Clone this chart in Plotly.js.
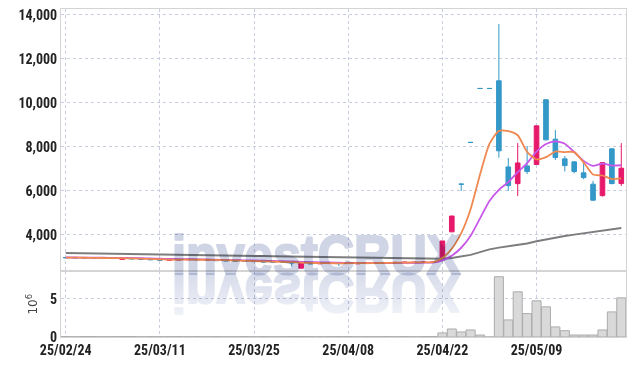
<!DOCTYPE html>
<html><head><meta charset="utf-8">
<script src="https://cdn.plot.ly/plotly-3.0.1.min.js"></script>
<style>html,body{margin:0;padding:0;background:#fff}#chart{width:635px;height:366px}</style>
</head><body><div id="chart"></div>
<script>
const dates = ['25/02/24','25/02/25','25/02/26','25/02/27','25/02/28','25/03/04','25/03/05','25/03/06','25/03/07','25/03/10',
'25/03/11','25/03/12','25/03/13','25/03/14','25/03/17','25/03/18','25/03/19','25/03/20','25/03/21','25/03/24',
'25/03/25','25/03/26','25/03/27','25/03/28','25/03/31','25/04/01','25/04/02','25/04/03','25/04/04','25/04/07',
'25/04/08','25/04/09','25/04/10','25/04/11','25/04/14','25/04/15','25/04/16','25/04/17','25/04/18','25/04/21',
'25/04/22','25/04/23','25/04/24','25/04/25','25/04/28','25/04/29','25/04/30','25/05/02','25/05/07','25/05/08',
'25/05/09','25/05/12','25/05/13','25/05/14','25/05/15','25/05/16','25/05/19','25/05/20','25/05/21','25/05/22'];
const tickLabels = ['25/02/24','25/03/11','25/03/25','25/04/08','25/04/22','25/05/09'];

const open = [2975,2965,2960,2955,2945,2950,2890,2945,2920,2895,
2880,2850,2860,2870,2895,2870,2850,2835,2825,2815,
2800,2790,2770,2765,2760,2490,2700,2690,2700,2740,
2700,2690,2700,2715,2725,2735,2745,2750,2760,2760,
2864,4140,6310,8205,10655,10655,11000,7090,6330,7136,
7200,10140,8350,7455,7320,6820,6305,5786,7909,6333];
const high = [2985,2970,2965,2960,2955,2955,2945,2950,2925,2900,
2885,2880,2885,2900,2900,2875,2855,2840,2830,2820,
2805,2795,2775,2770,2765,2715,2705,2730,2745,2745,
2735,2720,2730,2735,2745,2755,2765,2770,2775,2780,
3727,4864,6310,8205,10655,10655,13580,7490,8170,8045,
8960,10150,8770,7590,7330,7330,6455,7300,7950,8168];
const low = [2955,2950,2945,2935,2935,2925,2885,2910,2880,2865,
2845,2845,2855,2865,2860,2840,2825,2815,2805,2790,
2780,2760,2755,2745,2560,2480,2680,2680,2690,2590,
2680,2680,2695,2705,2715,2725,2735,2745,2750,2755,
2850,4136,6000,8200,10650,10650,7510,6000,5770,6760,
7190,8300,7410,6880,6800,6530,5560,5740,6300,6227];
const close = [2965,2960,2955,2945,2940,2930,2940,2915,2895,2875,
2855,2875,2880,2895,2870,2850,2835,2825,2815,2800,
2790,2770,2765,2760,2730,2710,2690,2725,2740,2700,
2730,2715,2725,2735,2745,2755,2765,2760,2770,2765,
3727,4860,6305,8200,10650,10650,7820,6240,7270,6880,
8955,8318,7514,7150,6880,6605,5577,7286,6333,7030];
const priorCloses = [3000,2995,2990,2985,2980,2978,2975,2972,2970];
const ma60 = [3180,3175,3170,3165,3160,3155,3150,3145,3140,3132,
3123,3117,3110,3104,3098,3092,3085,3078,3070,3060,
3050,3043,3036,3030,3022,3012,3005,2998,2992,2985,
2978,2970,2963,2957,2950,2945,2940,2935,2930,2927,
2925,2955,3010,3095,3220,3345,3425,3480,3550,3615,
3715,3805,3880,3950,4015,4075,4120,4192,4249,4319];
const volume = [0.05,0.04,0.05,0.06,0.04,0.05,0.06,0.05,0.04,0.05,
0.04,0.05,0.05,0.04,0.05,0.04,0.05,0.04,0.04,0.05,
0.04,0.05,0.04,0.05,0.06,0.07,0.05,0.04,0.05,0.06,
0.05,0.04,0.05,0.04,0.05,0.04,0.05,0.04,0.05,0.06,
0.53,1.05,0.66,0.92,0.26,0.0,7.9,2.24,5.92,3.07,
4.74,3.95,1.32,0.83,0.26,0.26,0.26,0.92,3.29,5.13];

function movingAvg(n){
  const all = priorCloses.concat(close);
  const off = priorCloses.length;
  return close.map((_, i) => {
    let s = 0;
    for (let k = i + off - n + 1; k <= i + off; k++) s += all[k];
    return s / n;
  });
}
const ma5 = movingAvg(5);
const ma10 = movingAvg(10);

const UP = '#e6196a', DOWN = '#3498c8';
const tickFont = {family: '"Roboto Condensed", Roboto, "Liberation Sans", sans-serif', size: 14, color: '#222', weight: 'bold'};
const gridColor = '#c9cde0';
const frameColor = '#d4d4d4';
const WM = '#d0d5e6';

const traces = [
  {type: 'candlestick', x: dates, open: open, high: high, low: low, close: close,
   xaxis: 'x', yaxis: 'y', whiskerwidth: 0,
   increasing: {line: {color: UP, width: 1}, fillcolor: UP},
   decreasing: {line: {color: DOWN, width: 1}, fillcolor: DOWN},
   hoverinfo: 'skip', showlegend: false},
  {type: 'scatter', mode: 'lines', x: dates, y: ma60, xaxis: 'x', yaxis: 'y',
   line: {color: '#7d7d7d', width: 2}, showlegend: false, hoverinfo: 'skip'},
  {type: 'scatter', mode: 'lines', x: dates, y: ma10, xaxis: 'x', yaxis: 'y',
   line: {color: '#c857ea', width: 1.8, shape: 'spline', smoothing: 0.6}, showlegend: false, hoverinfo: 'skip'},
  {type: 'scatter', mode: 'lines', x: dates, y: ma5, xaxis: 'x', yaxis: 'y',
   line: {color: '#f08850', width: 1.8, shape: 'spline', smoothing: 0.6}, showlegend: false, hoverinfo: 'skip'},
  {type: 'bar', x: dates, y: volume, xaxis: 'x2', yaxis: 'y2',
   marker: {color: '#d9d9d9', line: {color: '#ababab', width: 1}},
   showlegend: false, hoverinfo: 'skip'}
];

const layout = {
  width: 635, height: 366,
  margin: {l: 61, r: 9, t: 9, b: 29},
  paper_bgcolor: '#fff', plot_bgcolor: '#fff',
  showlegend: false,
  bargap: 0.04,
  xaxis: {domain: [0, 1], anchor: 'y', type: 'category', range: [-0.5, 59.5],
    rangeslider: {visible: false}, showticklabels: false, tickvals: tickLabels, ticks: '',
    showgrid: true, gridcolor: gridColor, griddash: 'dot', gridwidth: 1,
    showline: true, mirror: true, linecolor: frameColor, linewidth: 1, zeroline: false},
  xaxis2: {domain: [0, 1], anchor: 'y2', type: 'category', matches: 'x', range: [-0.5, 59.5],
    tickvals: tickLabels, ticktext: tickLabels, ticks: '', tickfont: tickFont,
    showgrid: true, gridcolor: gridColor, griddash: 'dot', gridwidth: 1,
    showline: true, mirror: true, linecolor: frameColor, linewidth: 1, zeroline: false},
  yaxis: {domain: [0.2, 1], anchor: 'x', range: [2345, 14260],
    tickvals: [4000, 6000, 8000, 10000, 12000, 14000], tickformat: ',d', ticks: '',
    tickfont: tickFont, showgrid: true, gridcolor: gridColor, griddash: 'dot', gridwidth: 1,
    showline: true, mirror: true, linecolor: frameColor, linewidth: 1, zeroline: false},
  yaxis2: {domain: [0, 0.2], anchor: 'x2', range: [0, 8.6],
    tickvals: [0, 5], ticks: '', tickfont: tickFont,
    title: {text: '10<sup>6</sup>', font: {family: '"DejaVu Sans", sans-serif', size: 12, color: '#444'}, standoff: 9},
    showgrid: true, gridcolor: gridColor, griddash: 'dot', gridwidth: 1,
    showline: true, mirror: true, linecolor: frameColor, linewidth: 1, zeroline: false},
  annotations: [
    {text: 'investCRUX', xref: 'paper', yref: 'paper', x: 0.452, y: 0.148, xanchor: 'center', yanchor: 'bottom',
     showarrow: false, font: {family: '"Liberation Sans", Arial, sans-serif', size: 56, color: WM, weight: 'bold'}}
  ]
};

Plotly.newPlot('chart', traces, layout, {staticPlot: true, displayModeBar: false}).then(gd => {
  const ann = gd.querySelector('g.annotation text.annotation-text');
  if (!ann) return;
  const parent = ann.parentNode;
  const bb = ann.getBBox();
  const cx = bb.x + bb.width / 2;
  const prev = ann.getAttribute('transform') || '';
  ann.setAttribute('transform', 'translate(' + cx + ',0) scale(0.9,1) translate(' + (-cx) + ',0) ' + prev);
  ann.style.stroke = WM;
  ann.style.strokeWidth = '2.2px';
  ann.style.strokeLinejoin = 'round';
  ann.style.mixBlendMode = 'multiply';
  const base = bb.y + bb.height * 0.81;
  const svg = gd.querySelector('svg.main-svg');
  const ns = 'http://www.w3.org/2000/svg';
  let defs = svg.querySelector('defs');
  const grad = document.createElementNS(ns, 'linearGradient');
  grad.setAttribute('id', 'wmfade');
  grad.setAttribute('x1', '0'); grad.setAttribute('y1', '0');
  grad.setAttribute('x2', '0'); grad.setAttribute('y2', '1');
  const s1 = document.createElementNS(ns, 'stop');
  s1.setAttribute('offset', '0.05'); s1.setAttribute('stop-color', '#f4f5fa');
  const s2 = document.createElementNS(ns, 'stop');
  s2.setAttribute('offset', '0.85'); s2.setAttribute('stop-color', '#d6dbea');
  grad.appendChild(s1); grad.appendChild(s2); defs.appendChild(grad);
  const g = document.createElementNS(ns, 'g');
  g.setAttribute('transform', 'translate(0,' + (2 * base) + ') scale(1,-1)');
  const clone = ann.cloneNode(true);
  clone.style.fill = 'url(#wmfade)';
  clone.style.stroke = 'url(#wmfade)';
  clone.setAttribute('class', 'wm-reflection');
  g.appendChild(clone);
  parent.appendChild(g);
});
</script></body></html>
